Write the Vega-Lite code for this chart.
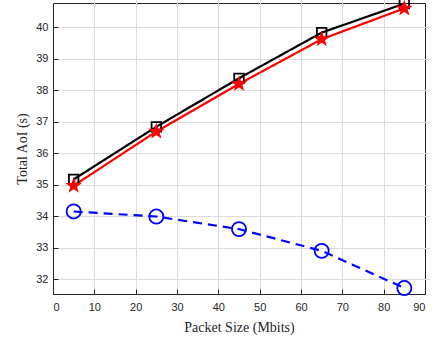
{
  "$schema": "https://vega.github.io/schema/vega-lite/v6.json",
  "width": 372,
  "height": 291,
  "autosize": {"type": "none"},
  "padding": {"left": 53, "top": 3, "right": 10, "bottom": 47},
  "background": "white",
  "config": {
    "view": {"stroke": "#262626", "strokeWidth": 1},
    "axis": {
      "labelFont": "Liberation Sans",
      "labelFontSize": 11,
      "labelColor": "#262626",
      "titleFont": "Liberation Serif",
      "titleFontSize": 14,
      "titleFontWeight": "normal",
      "titleColor": "#262626",
      "domain": false,
      "tickColor": "#262626",
      "tickSize": 5,
      "offset": -5,
      "gridColor": "#dcdcdc"
    }
  },
  "data": {
    "values": [
      {"series": "NOMA with constraint (21d)", "packet": 5, "aoi": 35.17},
      {"series": "NOMA with constraint (21d)", "packet": 25, "aoi": 36.84},
      {"series": "NOMA with constraint (21d)", "packet": 45, "aoi": 38.38},
      {"series": "NOMA with constraint (21d)", "packet": 65, "aoi": 39.83},
      {"series": "NOMA with constraint (21d)", "packet": 85, "aoi": 40.75},
      {"series": "NOMA without constraint (21d)", "packet": 5, "aoi": 34.97},
      {"series": "NOMA without constraint (21d)", "packet": 25, "aoi": 36.69},
      {"series": "NOMA without constraint (21d)", "packet": 45, "aoi": 38.2},
      {"series": "NOMA without constraint (21d)", "packet": 65, "aoi": 39.62},
      {"series": "NOMA without constraint (21d)", "packet": 85, "aoi": 40.6},
      {"series": "OMA without constraint (21d)", "packet": 5, "aoi": 34.15},
      {"series": "OMA without constraint (21d)", "packet": 25, "aoi": 33.99},
      {"series": "OMA without constraint (21d)", "packet": 45, "aoi": 33.59},
      {"series": "OMA without constraint (21d)", "packet": 65, "aoi": 32.9},
      {"series": "OMA without constraint (21d)", "packet": 85, "aoi": 31.72}
    ]
  },
  "encoding": {
    "x": {
      "field": "packet", "type": "quantitative",
      "scale": {"domain": [0, 90], "nice": false},
      "axis": {
        "title": "Packet Size (Mbits)",
        "values": [0, 10, 20, 30, 40, 50, 60, 70, 80, 90],
        "grid": true,
        "gridColor": {"condition": {"test": "datum.value === 0 || datum.value === 90", "value": "transparent"}, "value": "#dcdcdc"},
        "labelPadding": 7,
        "titlePadding": 8
      }
    },
    "y": {
      "field": "aoi", "type": "quantitative",
      "scale": {"domain": [31.53, 40.77], "nice": false, "zero": false},
      "axis": {"title": "Total AoI (s)", "values": [32, 33, 34, 35, 36, 37, 38, 39, 40], "grid": true, "labelOverlap": false, "labelPadding": 5, "titlePadding": 6}
    }
  },
  "layer": [
    {
      "mark": {"type": "line", "strokeWidth": 2.2},
      "encoding": {
        "color": {
          "field": "series", "type": "nominal",
          "scale": {
            "domain": ["NOMA with constraint (21d)", "NOMA without constraint (21d)", "OMA without constraint (21d)"],
            "range": ["#000000", "#ff0000", "#0000ff"]
          },
          "legend": null
        },
        "strokeDash": {
          "field": "series", "type": "nominal",
          "scale": {
            "domain": ["NOMA with constraint (21d)", "NOMA without constraint (21d)", "OMA without constraint (21d)"],
            "range": [[1, 0], [1, 0], [9, 6]]
          },
          "legend": null
        }
      }
    },
    {
      "mark": {"type": "point", "filled": true, "strokeWidth": 1.8, "opacity": 1},
      "encoding": {
        "shape": {
          "field": "series", "type": "nominal",
          "scale": {
            "domain": ["NOMA with constraint (21d)", "NOMA without constraint (21d)", "OMA without constraint (21d)"],
            "range": ["square", "M0,-1L0.235,-0.324L0.951,-0.309L0.38,0.124L0.588,0.809L0,0.4L-0.588,0.809L-0.38,0.124L-0.951,-0.309L-0.235,-0.324Z", "circle"]
          },
          "legend": {"title": null, "orient": "none", "legendX": 155, "legendY": 157}
        },
        "size": {
          "field": "series", "type": "nominal",
          "scale": {
            "domain": ["NOMA with constraint (21d)", "NOMA without constraint (21d)", "OMA without constraint (21d)"],
            "range": [90, 200, 90]
          },
          "legend": null
        },
        "stroke": {
          "field": "series", "type": "nominal",
          "scale": {
            "domain": ["NOMA with constraint (21d)", "NOMA without constraint (21d)", "OMA without constraint (21d)"],
            "range": ["#000000", "#ff0000", "#0000ff"]
          },
          "legend": {"title": null, "orient": "none", "legendX": 155, "legendY": 157}
        },
        "fill": {
          "field": "series", "type": "nominal",
          "scale": {
            "domain": ["NOMA with constraint (21d)", "NOMA without constraint (21d)", "OMA without constraint (21d)"],
            "range": ["transparent", "#ff0000", "transparent"]
          },
          "legend": {"title": null, "orient": "none", "legendX": 155, "legendY": 157}
        }
      }
    }
  ]
}
